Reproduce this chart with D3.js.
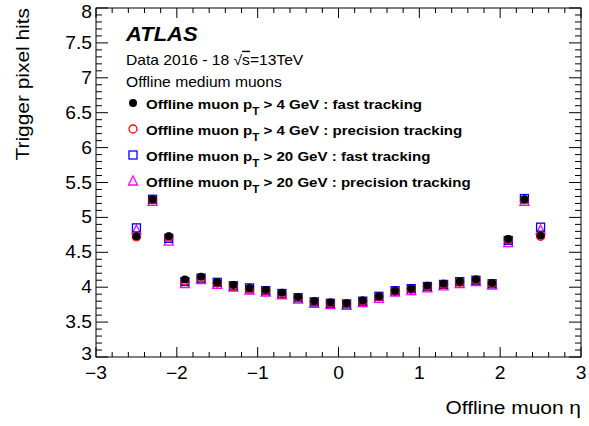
<!DOCTYPE html>
<html>
<head>
<meta charset="utf-8">
<script src="https://cdn.jsdelivr.net/npm/d3@7"></script>
<style>
  body { margin: 0; background: #fff; }
  svg { font-family: "Liberation Sans", Arial, sans-serif; }
</style>
</head>
<body>
<svg id="chart"></svg>
<script>
// eta bin centres
const etaBins = [-2.5, -2.3, -2.1, -1.9, -1.7, -1.5, -1.3, -1.1, -0.9, -0.7, -0.5, -0.3, -0.1,
                 0.1, 0.3, 0.5, 0.7, 0.9, 1.1, 1.3, 1.5, 1.7, 1.9, 2.1, 2.3, 2.5];

// mean trigger pixel hits per series
const pt4Fast = [4.73, 5.26, 4.73, 4.11, 4.15, 4.07, 4.03, 3.99, 3.96, 3.92, 3.86, 3.80, 3.78,
                 3.77, 3.81, 3.87, 3.95, 3.98, 4.02, 4.05, 4.08, 4.11, 4.06, 4.69, 5.26, 4.74];
const pt4Prec = [4.72, 5.25, 4.72, 4.09, 4.13, 4.06, 4.01, 3.97, 3.95, 3.90, 3.85, 3.79, 3.77,
                 3.76, 3.80, 3.86, 3.94, 3.97, 4.01, 4.04, 4.07, 4.10, 4.05, 4.68, 5.25, 4.73];
const pt20Fast = [4.85, 5.26, 4.70, 4.08, 4.13, 4.07, 4.02, 3.99, 3.95, 3.91, 3.85, 3.79, 3.77,
                  3.76, 3.80, 3.87, 3.95, 3.98, 4.01, 4.04, 4.08, 4.10, 4.05, 4.67, 5.27, 4.86];
const pt20Prec = [4.82, 5.23, 4.66, 4.05, 4.11, 4.04, 4.00, 3.96, 3.93, 3.89, 3.83, 3.77, 3.75,
                  3.74, 3.78, 3.84, 3.93, 3.95, 3.99, 4.02, 4.05, 4.08, 4.03, 4.64, 5.23, 4.82];

const xTicks = [-3, -2, -1, 0, 1, 2, 3];
const yTicks = [3, 3.5, 4, 4.5, 5, 5.5, 6, 6.5, 7, 7.5, 8];

const legendLabels = [
    {pre: "Offline muon p", sub: "T", post: " > 4 GeV : fast tracking"},
    {pre: "Offline muon p", sub: "T", post: " > 4 GeV : precision tracking"},
    {pre: "Offline muon p", sub: "T", post: " > 20 GeV : fast tracking"},
    {pre: "Offline muon p", sub: "T", post: " > 20 GeV : precision tracking"}
];

const W = 589, H = 426;
const m = {left: 96, right: 8, top: 8, bottom: 69};
const SX = 1.1; // reference glyphs are a bit wider than Liberation Sans

const svg = d3.select("#chart").attr("width", W).attr("height", H);

const x = d3.scaleLinear().domain([-3, 3]).range([m.left, W - m.right]);
const y = d3.scaleLinear().domain([3, 8]).range([H - m.bottom, m.top]);

const series = [
    {vals: pt4Fast, shape: "circleFilled", color: "#000"},
    {vals: pt4Prec, shape: "circle", color: "#ff0000"},
    {vals: pt20Fast, shape: "square", color: "#0000ff"},
    {vals: pt20Prec, shape: "triangle", color: "#ff00ff"}
];

// text placed at (tx,ty), stretched horizontally a little
function label(g, tx, ty, size, anchor, rot) {
    return g.append("text")
        .attr("transform", `translate(${tx},${ty})` + (rot ? ` rotate(${rot})` : "") + ` scale(${SX},1)`)
        .attr("text-anchor", anchor || "start")
        .attr("font-size", size);
}

function drawMarker(g, shape, color, cx, cy) {
    if (shape === "circleFilled") {
        g.append("circle").attr("cx", cx).attr("cy", cy).attr("r", 4).attr("fill", color);
    } else if (shape === "circle") {
        g.append("circle").attr("cx", cx).attr("cy", cy).attr("r", 4)
            .attr("fill", "none").attr("stroke", color).attr("stroke-width", 1.3);
    } else if (shape === "square") {
        g.append("rect").attr("x", cx - 4).attr("y", cy - 4).attr("width", 8).attr("height", 8)
            .attr("fill", "none").attr("stroke", color).attr("stroke-width", 1.3);
    } else {
        g.append("path").attr("d", `M${cx},${cy - 5}L${cx + 4.5},${cy + 4}L${cx - 4.5},${cy + 4}Z`)
            .attr("fill", "none").attr("stroke", color).attr("stroke-width", 1.3);
    }
}

// frame
svg.append("rect")
    .attr("x", m.left).attr("y", m.top)
    .attr("width", W - m.left - m.right).attr("height", H - m.top - m.bottom)
    .attr("fill", "none").attr("stroke", "#000").attr("stroke-width", 1);

// ticks (ROOT style: inside, mirrored on the opposite side)
const gTicks = svg.append("g").attr("stroke", "#000").attr("stroke-width", 1);
d3.range(-3, 3.0001, 0.2).forEach(v => {
    const major = Math.abs(v - Math.round(v)) < 1e-6;
    const len = major ? 10 : 5;
    gTicks.append("line").attr("x1", x(v)).attr("x2", x(v)).attr("y1", y(3)).attr("y2", y(3) - len);
    gTicks.append("line").attr("x1", x(v)).attr("x2", x(v)).attr("y1", y(8)).attr("y2", y(8) + len);
});
d3.range(3, 8.0001, 0.1).forEach(v => {
    const major = Math.abs(v * 2 - Math.round(v * 2)) < 1e-6;
    const len = major ? 12 : 6;
    gTicks.append("line").attr("y1", y(v)).attr("y2", y(v)).attr("x1", x(-3)).attr("x2", x(-3) + len);
    gTicks.append("line").attr("y1", y(v)).attr("y2", y(v)).attr("x1", x(3)).attr("x2", x(3) - len);
});

// tick labels (ROOT pulls the end labels inwards a bit)
xTicks.forEach(d => {
    label(svg, x(d), y(3) + 22, 17.5, "middle").text(d < 0 ? "\u2212" + Math.abs(d) : d);
});
yTicks.forEach(d => {
    const shift = d === 8 ? 4 : (d === 3 ? -3 : 0);
    label(svg, m.left - 4, y(d) + 6 + shift, 17.5, "end").text(d);
});

// axis titles
label(svg, W - m.right, 414, 19, "end").text("Offline muon \u03b7");
label(svg, 29, m.top, 19, "end", -90).text("Trigger pixel hits");

// data
const gData = svg.append("g");
series.slice().reverse().forEach(s => {
    s.vals.forEach((v, i) => drawMarker(gData, s.shape, s.color, x(etaBins[i]), y(v)));
});

// labels
label(svg, 126, 41, 20).attr("font-weight", "bold").attr("font-style", "italic").text("ATLAS");
const info = label(svg, 126, 65, 14.2);
info.append("tspan").text("Data 2016 - 18 \u221A");
info.append("tspan").attr("text-decoration", "overline").text("s");
info.append("tspan").text("=13TeV");
label(svg, 126, 87, 14.2).text("Offline medium muons");

// legend
legendLabels.forEach((lab, i) => {
    const cy = 103 + i * 26;
    drawMarker(svg, series[i].shape, series[i].color, 133, cy);
    const t = label(svg, 146, cy + 6, 13.7).attr("font-weight", "bold");
    t.append("tspan").text(lab.pre);
    t.append("tspan").attr("dy", 6).attr("font-size", 10.5).text(lab.sub);
    t.append("tspan").attr("dy", -6).text(lab.post);
});
</script>
</body>
</html>
